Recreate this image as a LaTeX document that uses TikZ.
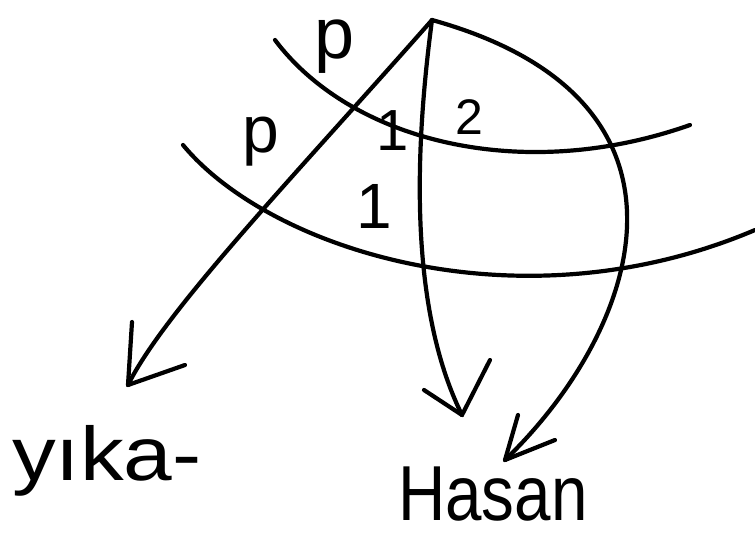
\documentclass[tikz,border=0pt]{standalone}
\usepackage{fontspec}
\setmainfont{Liberation Sans}
\begin{document}
\begin{tikzpicture}[x=1pt,y=-1pt,
  pen/.style={line width=4.2pt,line cap=round,line join=round},
  lab/.style={inner sep=0pt,anchor=base west}]
\useasboundingbox (0,0) rectangle (755,538);
\coordinate (top) at (432,20);
\coordinate (tipL) at (128,385);
\coordinate (tipM) at (462,415);
\coordinate (tipR) at (505,460);
% arcs
\draw[pen] (275,40) .. controls (350,140) and (520,185) .. (690,125);
\draw[pen] (183,145) .. controls (270,250) and (520,330) .. (755,230);
% arrows from top
\draw[pen] (top) .. controls (300,170) and (165,310) .. (tipL);
\draw[pen] (tipL) -- (132,322);
\draw[pen] (tipL) -- (185,365);
\draw[pen] (top) .. controls (408,200) and (420,330) .. (tipM);
\draw[pen] (tipM) -- (424,390);
\draw[pen] (tipM) -- (490,360);
\draw[pen] (top) .. controls (720,100) and (640,330) .. (tipR);
\draw[pen] (tipR) -- (518,415);
\draw[pen] (tipR) -- (555,440);
% labels
\node[lab,font=\fontsize{72}{72}\selectfont] (p1) at (314,58) {p};
\node[lab,font=\fontsize{66}{66}\selectfont] (p2) at (242,152) {p};
\node[lab,font=\fontsize{58}{58}\selectfont] (n1) at (376,150) {1};
\node[lab,font=\fontsize{50}{50}\selectfont] (n2) at (455,134) {2};
\node[lab,font=\fontsize{64}{64}\selectfont] (n3) at (356,228) {1};
\node[lab,font=\fontsize{76}{76}\selectfont] (yika) at (12,480) {\scalebox{1.15}[1]{yıka-}};
\node[lab,font=\fontsize{78}{78}\selectfont] (hasan) at (398,520) {\scalebox{0.84}[1]{Hasan}};
\end{tikzpicture}
\end{document}
